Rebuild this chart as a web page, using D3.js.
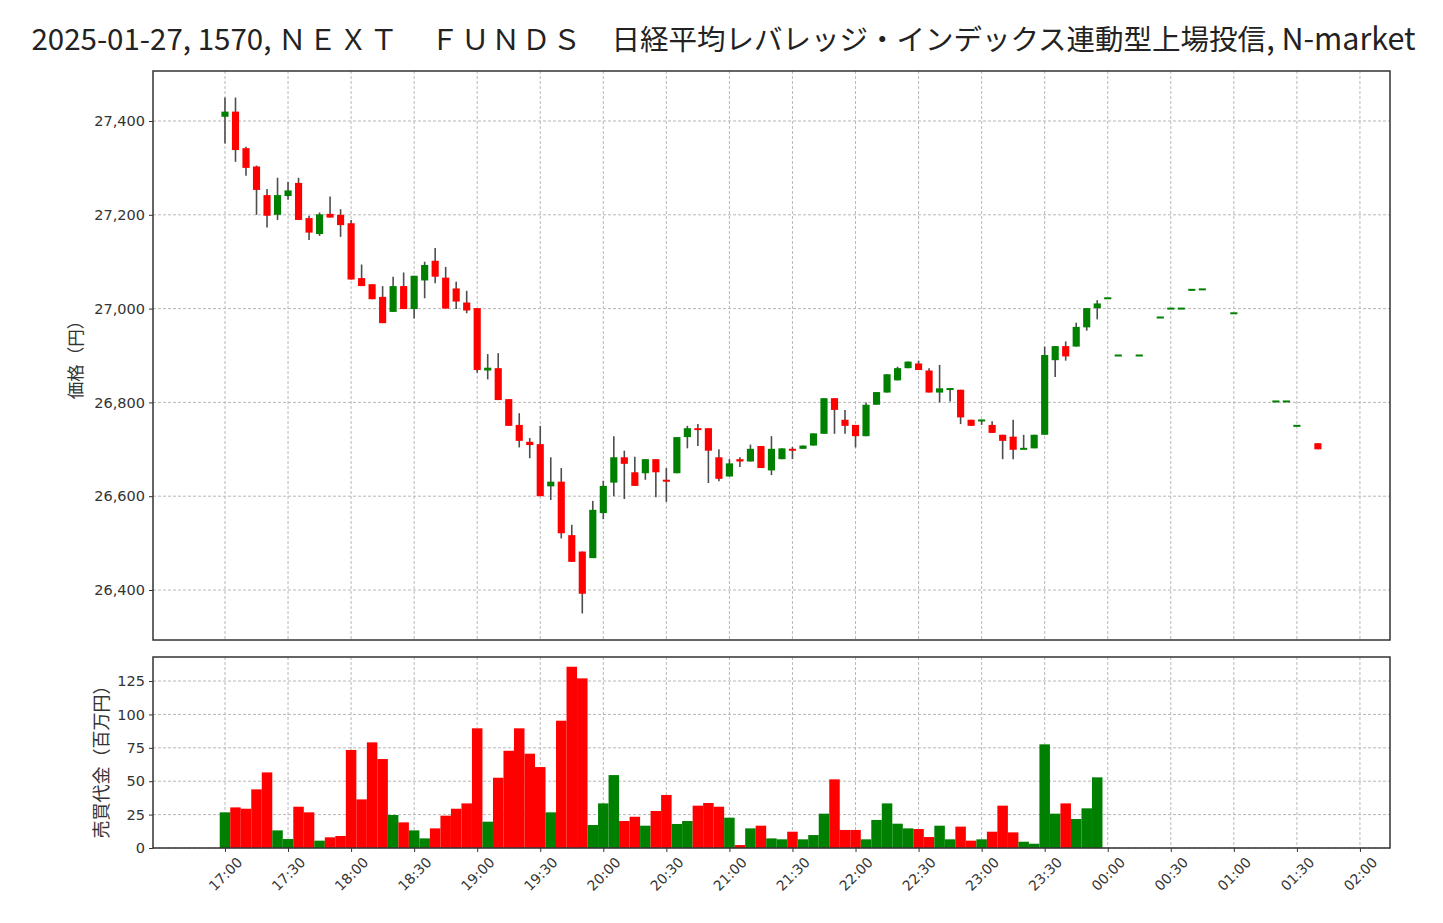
<!DOCTYPE html>
<html>
<head>
<meta charset="utf-8">
<script src="https://cdn.jsdelivr.net/npm/d3@7"></script>
<style>
  html, body { margin: 0; padding: 0; background: #fff; }
  svg { display: block; }
</style>
</head>
<body>
<svg id="chart" width="1443" height="923"></svg>
<script>
// ---- DATA ----
const times  = ["17:00","17:05","17:10","17:15","17:20","17:25","17:30","17:35","17:40","17:45","17:50","17:55",
                "18:00","18:05","18:10","18:15","18:20","18:25","18:30","18:35","18:40","18:45","18:50","18:55",
                "19:00","19:05","19:10","19:15","19:20","19:25","19:30","19:35","19:40","19:45","19:50","19:55",
                "20:00","20:05","20:10","20:15","20:20","20:25","20:30","20:35","20:40","20:45","20:50","20:55",
                "21:00","21:05","21:10","21:15","21:20","21:25","21:30","21:35","21:40","21:45","21:50","21:55",
                "22:00","22:05","22:10","22:15","22:20","22:25","22:30","22:35","22:40","22:45","22:50","22:55",
                "23:00","23:05","23:10","23:15","23:20","23:25","23:30","23:35","23:40","23:45","23:50","23:55",
                "00:00","00:05","00:15","00:25","00:30","00:35","00:40","00:45","01:00","01:20","01:25","01:30","01:40"];
const opens  = [27409,27420,27342,27303,27242,27200,27240,27268,27193,27159,27202,27200,
                27182,27065,27052,27025,26993,27048,26999,27060,27102,27066,27043,27013,
                27001,26868,26873,26807,26752,26716,26711,26621,26631,26517,26482,26468,
                26564,26629,26683,26651,26649,26679,26635,26649,26726,26745,26745,26683,
                26642,26679,26674,26707,26655,26679,26701,26701,26708,26733,26809,26763,
                26752,26728,26795,26821,26847,26873,26883,26868,26821,26827,26827,26763,
                26760,26752,26731,26727,26700,26702,26731,26890,26920,26919,26960,27001,
                27022,26900,26900,26981,27000,27000,27038,27041,26990,26802,26802,26750,26713];
const highs  = [27450,27450,27345,27305,27255,27279,27270,27279,27198,27205,27239,27212,
                27189,27094,27052,27048,27068,27077,27070,27100,27129,27089,27057,27038,
                27001,26903,26905,26807,26777,26724,26750,26683,26660,26539,26482,26590,
                26633,26728,26697,26684,26679,26679,26660,26726,26750,26754,26745,26700,
                26679,26683,26710,26707,26728,26702,26705,26708,26734,26809,26809,26784,
                26752,26800,26822,26860,26876,26887,26889,26873,26880,26830,26827,26763,
                26763,26760,26731,26763,26731,26731,26919,26920,26930,26970,27001,27018,
                27022,26900,26900,26981,27000,27000,27042,27041,26990,26802,26802,26750,26713];
const lows   = [27352,27313,27283,27200,27173,27189,27232,27189,27146,27155,27194,27153,
                27062,27048,27020,26969,26993,26999,26979,27022,27054,27000,26999,26990,
                26863,26849,26805,26750,26704,26681,26600,26592,26510,26460,26350,26468,
                26551,26600,26594,26622,26635,26598,26588,26649,26702,26707,26628,26632,
                26642,26662,26674,26660,26645,26679,26679,26701,26708,26733,26733,26733,
                26704,26728,26795,26821,26847,26873,26869,26821,26800,26802,26754,26750,
                26752,26735,26679,26679,26700,26702,26731,26854,26889,26919,26953,26977,
                27022,26900,26900,26981,27000,27000,27038,27041,26990,26802,26802,26750,26700];
const closes = [27420,27338,27300,27253,27198,27242,27252,27189,27162,27201,27194,27178,
                27062,27048,27020,26969,27048,26999,27070,27093,27068,27000,27015,26996,
                26869,26874,26805,26750,26718,26709,26600,26631,26521,26460,26392,26571,
                26622,26683,26669,26622,26679,26651,26631,26726,26745,26741,26697,26637,
                26670,26674,26701,26660,26701,26702,26697,26708,26734,26809,26784,26750,
                26728,26795,26822,26860,26873,26887,26869,26821,26830,26830,26768,26750,
                26763,26735,26718,26699,26702,26731,26901,26920,26898,26961,27001,27011,
                27022,26900,26900,26981,27000,27000,27042,27041,26990,26802,26802,26750,26700];
const volumes = [26.7,30.4,29.4,43.9,56.6,13.2,6.7,30.9,26.7,5.5,8.0,9.0,
                 73.4,36.4,79.1,66.6,24.7,19.2,13.2,7.2,14.7,24.2,29.4,33.4,
                 89.6,19.7,52.6,72.8,89.6,70.6,60.6,26.7,95.3,135.7,127.0,17.2,
                 33.4,54.6,20.2,23.4,16.7,27.7,39.7,18.0,20.2,31.7,33.7,30.9,
                 22.7,2.2,14.7,16.7,7.2,6.5,12.2,6.5,9.7,25.7,51.4,13.5,
                 13.5,6.5,21.0,33.4,18.2,14.7,14.2,8.2,16.7,6.5,16.0,5.5,
                 6.5,12.2,31.7,11.7,4.7,3.2,77.6,25.7,33.4,21.7,29.7,52.9,
                 0,0,0,0,0,0,0,0,0,0,0,0,0];
const xTickLabels = ["17:00","17:30","18:00","18:30","19:00","19:30","20:00","20:30","21:00","21:30",
                     "22:00","22:30","23:00","23:30","00:00","00:30","01:00","01:30","02:00"];
const priceTicks = [26400,26600,26800,27000,27200,27400];
const volumeTicks = [0,25,50,75,100,125];
const titleParts = ["2025-01-27, 1570, ", "ＮＥＸＴ　ＦＵＮＤＳ", "　日経平均レバレッジ・インデックス連動型上場投信", ", N-market"];
const priceLabel = "価格（円）";
const volumeLabel = "売買代金（百万円）";

// ---- HELPERS ----
const toMin = s => { let [h, m] = s.split(":").map(Number); if (h < 12) h += 24; return h * 60 + m - 17 * 60; };
const candles = times.map((t, i) => ({ t: toMin(t), o: opens[i], h: highs[i], l: lows[i], c: closes[i], v: volumes[i] }));

const UP = "#008000", DOWN = "#ff0000", WICK = "#4d4d4d";
const svg = d3.select("#chart");
svg.append("rect").attr("width", 1443).attr("height", 923).attr("fill", "#fff");

const L = 153, R = 1390;
const P = { top: 71, bottom: 640 };
const V = { top: 657, bottom: 848 };

const x = d3.scaleLinear().domain([-34.25, 554.3]).range([L, R]);
const yP = d3.scaleLinear().domain([26293.4, 27506.6]).range([P.bottom, P.top]);
const yV = d3.scaleLinear().domain([0, 143]).range([V.bottom, V.top]);
const slot = x(5) - x(0);
const xTickVals = xTickLabels.map(toMin);

// ---- TITLE ----
const title = svg.append("text")
  .attr("x", 723.5).attr("y", 50)
  .attr("text-anchor", "middle")
  .attr("font-family", "'Noto Sans CJK JP', 'Noto Sans', sans-serif")
  .attr("font-size", 28.5)
  .attr("fill", "#222");
title.append("tspan").attr("font-size", 29.5).text(titleParts[0]);
title.append("tspan").attr("letter-spacing", 2).text(titleParts[1]);
title.append("tspan").text(titleParts[2]);
title.append("tspan").attr("font-size", 30.5).text(titleParts[3]);

// ---- GRIDS ----
function grid(g, yScale, ticks, top, bottom) {
  g.selectAll("line.gx").data(xTickVals).join("line")
    .attr("x1", d => x(d)).attr("x2", d => x(d))
    .attr("y1", top).attr("y2", bottom)
    .attr("stroke", "#b8b8b8").attr("stroke-width", 1).attr("stroke-dasharray", "3,2");
  g.selectAll("line.gy").data(ticks).join("line").attr("class", "gy")
    .attr("x1", L).attr("x2", R)
    .attr("y1", d => yScale(d)).attr("y2", d => yScale(d))
    .attr("stroke", "#b8b8b8").attr("stroke-width", 1).attr("stroke-dasharray", "3,2");
}
grid(svg.append("g"), yP, priceTicks, P.top, P.bottom);
grid(svg.append("g"), yV, volumeTicks, V.top, V.bottom);

// ---- CANDLES ----
const cg = svg.append("g");
cg.selectAll("line.wick").data(candles).join("line").attr("class", "wick")
  .attr("x1", d => x(d.t)).attr("x2", d => x(d.t))
  .attr("y1", d => yP(d.h)).attr("y2", d => yP(d.l))
  .attr("stroke", WICK).attr("stroke-width", 1.6);
const bw = slot * 0.68;
cg.selectAll("rect.body").data(candles).join("rect").attr("class", "body")
  .attr("x", d => x(d.t) - bw / 2)
  .attr("width", bw)
  .attr("y", d => { const top = yP(Math.max(d.o, d.c)), hgt = Math.abs(yP(d.o) - yP(d.c)); return hgt < 2 ? (top + yP(Math.min(d.o, d.c))) / 2 - 1 : top; })
  .attr("height", d => Math.max(2, Math.abs(yP(d.o) - yP(d.c))))
  .attr("fill", d => d.c >= d.o ? UP : DOWN);

// ---- VOLUME ----
svg.append("g").selectAll("rect").data(candles.filter(d => d.v > 0)).join("rect")
  .attr("x", d => x(d.t) - slot / 2)
  .attr("width", slot)
  .attr("y", d => yV(d.v))
  .attr("height", d => yV(0) - yV(d.v))
  .attr("fill", d => d.c >= d.o ? UP : DOWN);

// ---- FRAMES ----
[P, V].forEach(p => svg.append("rect")
  .attr("x", L).attr("y", p.top).attr("width", R - L).attr("height", p.bottom - p.top)
  .attr("fill", "none").attr("stroke", "#333").attr("stroke-width", 1.5));

// ---- AXES ----
const tickFont = "'DejaVu Sans', sans-serif";
const ap = svg.append("g").attr("transform", `translate(${L},0)`)
  .call(d3.axisLeft(yP).tickValues(priceTicks).tickFormat(d3.format(",")).tickSize(4).tickPadding(4));
const av = svg.append("g").attr("transform", `translate(${L},0)`)
  .call(d3.axisLeft(yV).tickValues(volumeTicks).tickSize(4).tickPadding(4));
const ax = svg.append("g").attr("transform", `translate(0,${V.bottom})`)
  .call(d3.axisBottom(x).tickValues(xTickVals).tickFormat((d, i) => xTickLabels[i]).tickSize(4));
[ap, av, ax].forEach(a => {
  a.select(".domain").remove();
  a.selectAll(".tick line").attr("stroke", "#333");
  a.selectAll(".tick text").attr("font-family", tickFont).attr("font-size", 14.5).attr("fill", "#333");
});
ax.selectAll(".tick text")
  .attr("font-size", 14)
  .attr("text-anchor", "middle").attr("dy", null).attr("y", 0)
  .attr("dominant-baseline", "central")
  .attr("transform", "translate(0,26) rotate(-45)");

// ---- AXIS TITLES ----
svg.append("text").attr("transform", `translate(74,${(P.top + P.bottom) / 2}) rotate(-90)`)
  .attr("text-anchor", "middle").attr("dominant-baseline", "central")
  .attr("font-family", "'Noto Sans CJK JP', sans-serif").attr("font-size", 17.5).attr("fill", "#333")
  .text(priceLabel);
svg.append("text").attr("transform", `translate(100,${(V.top + V.bottom) / 2 + 5}) rotate(-90)`)
  .attr("text-anchor", "middle").attr("dominant-baseline", "central")
  .attr("font-family", "'Noto Sans CJK JP', sans-serif").attr("font-size", 18).attr("fill", "#333")
  .text(volumeLabel);
</script>
</body>
</html>
